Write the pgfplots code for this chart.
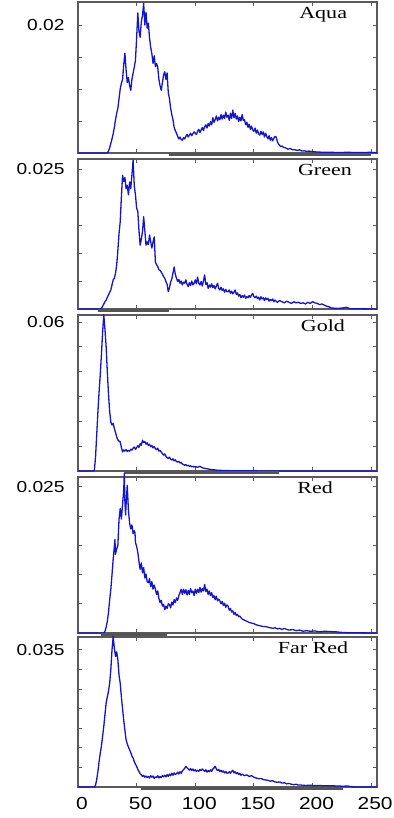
\documentclass[border=0pt]{standalone}
\usepackage{fontspec}
\setmainfont{Liberation Sans}[FakeStretch=1.2]
\newfontfamily\tfont{Liberation Serif}[FakeStretch=1.3]
\usepackage{pgfplots}
\pgfplotsset{compat=1.18}
\definecolor{framegray}{RGB}{90,90,90}
\definecolor{barcol}{RGB}{85,85,85}
\definecolor{curve}{RGB}{20,20,205}
\pgfplotsset{panel/.style={
  scale only axis, width=299bp, xmin=0, xmax=255, ymin=0,
  axis line style={draw=framegray, line width=1.2pt},
  tick style={draw=framegray, line width=0.9pt}, major tick length=4bp,
  tick align=inside, xtick={0,50,100,150,200,250}, xticklabels={},
  clip=false, anchor=north west,
  yticklabel style={font=\fontsize{16}{16}\selectfont, xshift=-10bp},
  xticklabel style={font=\fontsize{17.5}{17.5}\selectfont, yshift=-7bp, xshift=4bp}},
  hist/.style={draw=curve, line width=1.3bp, line join=round, mark=none},
  bar/.style={draw=barcol, line width=3.6bp, yshift=-1.6bp, mark=none, forget plot}}
\tikzset{ttl/.style={font=\tfont\fontsize{17}{17}\selectfont, anchor=base, yshift=-16bp}}
\begin{document}
\begin{tikzpicture}
\path[use as bounding box] (0,0) rectangle (394bp,-818bp);
% Aqua
\begin{axis}[panel, at={(78bp,-2bp)}, height=151bp, ymax=23.6, ytick={5,10,15,20}, yticklabels={,,,0.02}]
\addplot[hist] coordinates {(0,0) (25,0) (26,0.3) (27,0.8) (28,1.5) (29,2.2) (30,3.0) (31,4.0) (32,5.2) (33,6.2) (34,7.0) (35,8.5) (36,10.0) (37,10.9) (38,11.5) (39,13.8) (40,15.6) (41,13.0) (42,11.0) (43,11.8) (44,10.6) (45,9.8) (46,11.5) (47,12.5) (48,13.4) (49,14.5) (50,18.0) (51,21.9) (52,19.0) (53,18.1) (54,20.5) (55,21.5) (56,23.4) (57,20.0) (58,22.0) (59,19.5) (60,20.3) (61,18.0) (62,16.5) (63,15.5) (64,14.0) (65,15.2) (66,13.5) (67,14.0) (68,13.4) (69,11.5) (70,10.5) (71,9.8) (72,11.0) (73,12.2) (74,12.7) (75,11.5) (76,12.5) (77,9.4) (78,8.5) (79,7.0) (80,6.0) (81,5.2) (82,4.0) (83,3.5) (84,3.1) (85,2.6) (86,2.2) (87,2.5) (88,2.1) (89,2.0) (90,2.4) (91,2.2) (92,2.6) (93,2.9) (94,2.5) (95,2.8) (96,3.1) (97,2.7) (98,3.0) (99,3.3) (100,3.1) (101,2.9) (102,3.4) (103,3.7) (104,3.2) (105,3.6) (106,4.0) (107,3.5) (108,4.1) (109,4.4) (110,3.9) (111,4.6) (112,4.2) (113,4.9) (114,4.4) (115,5.5) (116,4.8) (117,5.2) (118,5.8) (119,5.0) (120,5.6) (121,5.2) (122,6.0) (123,5.3) (124,5.9) (125,5.4) (126,6.4) (127,5.6) (128,5.9) (129,5.1) (130,6.2) (131,5.4) (132,6.7) (133,5.5) (134,6.2) (135,5.3) (136,5.8) (137,4.9) (138,5.6) (139,5.0) (140,6.0) (141,5.1) (142,5.2) (143,4.4) (144,4.8) (145,4.0) (146,4.5) (147,3.7) (148,4.2) (149,3.6) (150,3.4) (151,3.9) (152,3.1) (153,3.6) (154,3.0) (155,2.8) (156,3.4) (157,2.9) (158,3.3) (159,2.5) (160,3.1) (161,2.6) (162,2.2) (163,2.7) (164,2.0) (165,2.4) (166,1.9) (167,2.3) (168,2.6) (169,2.5) (170,1.8) (171,1.4) (172,1.2) (173,1.0) (174,1.1) (175,0.9) (177,0.8) (179,0.6) (181,0.7) (183,0.5) (185,0.5) (187,0.4) (189,0.5) (191,0.3) (193,0.35) (195,0.25) (197,0.3) (200,0.2) (205,0.15) (210,0.1) (215,0.12) (220,0.08) (230,0.1) (240,0.08) (250,0.1) (255,0.05)};
\addplot[bar] coordinates {(78,0) (250,0)};
\node[ttl] at (rel axis cs:0.82,1) {Aqua};
\end{axis}
% Green
\begin{axis}[panel, at={(78bp,-159bp)}, height=150bp, ymax=26.8, ytick={5,10,15,20,25}, yticklabels={,,,,0.025}]
\addplot[hist] coordinates {(0,0) (19,0) (20,0.1) (21,0.5) (22,0.9) (23,1.3) (24,1.6) (25,2.1) (26,2.5) (27,3.0) (28,3.4) (29,4.3) (30,5.2) (31,5.5) (32,6.4) (33,7.9) (34,10.5) (35,13.5) (36,15.6) (37,20.0) (38,23.9) (39,22.8) (40,23.5) (41,21.5) (42,22.1) (43,20.4) (44,22.7) (45,21.5) (46,24.0) (47,26.6) (48,22.0) (49,20.4) (50,18.0) (51,17.5) (52,14.0) (53,11.4) (54,12.5) (55,13.8) (56,16.5) (57,14.0) (58,11.4) (59,12.0) (60,11.5) (61,13.2) (62,12.0) (63,10.9) (64,12.0) (65,12.9) (66,8.4) (67,7.9) (68,7.6) (69,7.0) (70,6.9) (71,6.6) (72,6.2) (73,5.8) (74,5.5) (75,4.9) (76,4.4) (77,3.1) (78,3.8) (79,4.8) (80,5.4) (81,6.4) (82,7.5) (83,6.2) (84,5.5) (85,4.9) (86,5.3) (87,4.6) (88,5.0) (89,4.3) (90,4.8) (91,4.6) (92,5.2) (93,4.4) (94,4.0) (95,4.7) (96,4.2) (97,5.0) (98,4.3) (99,4.6) (100,5.2) (101,4.5) (102,5.7) (103,4.6) (104,4.3) (105,4.9) (106,4.1) (107,5.0) (108,6.1) (109,4.4) (110,4.7) (111,3.7) (112,4.3) (113,3.9) (114,4.5) (115,3.8) (116,4.2) (117,3.6) (118,4.1) (119,4.6) (120,3.7) (121,3.4) (122,3.9) (123,3.3) (124,3.6) (125,3.0) (126,3.5) (127,3.1) (128,3.1) (129,3.4) (130,2.8) (131,3.2) (132,2.7) (133,3.0) (134,3.4) (135,2.6) (136,2.9) (137,2.3) (138,2.6) (139,2.0) (140,2.4) (141,2.1) (142,2.5) (143,1.9) (144,2.2) (145,2.0) (146,2.4) (147,2.1) (148,2.5) (149,2.8) (150,2.2) (151,2.0) (152,2.3) (153,1.9) (154,2.1) (155,1.6) (156,2.2) (157,1.8) (158,2.0) (159,1.5) (160,2.0) (161,1.7) (162,1.9) (163,1.4) (164,1.7) (165,1.5) (166,1.8) (167,1.3) (168,1.6) (169,1.4) (170,1.2) (172,1.5) (174,1.3) (176,1.1) (178,1.4) (180,1.2) (182,1.0) (184,1.3) (186,1.1) (188,1.2) (190,1.0) (192,1.1) (194,0.9) (196,1.2) (198,1.0) (200,1.3) (202,1.1) (204,1.0) (206,0.8) (208,0.9) (210,0.7) (212,0.5) (214,0.4) (216,0.2) (218,0.15) (222,0.1) (226,0.2) (229,0.3) (232,0.05) (255,0)};
\addplot[bar] coordinates {(17,0) (78,0)};
\node[ttl] at (rel axis cs:0.826,1) {Green};
\end{axis}
% Gold
\begin{axis}[panel, at={(78bp,-315bp)}, height=156bp, ymax=62.8, ytick={10,20,30,40,50,60}, yticklabels={,,,,,0.06}]
\addplot[hist] coordinates {(0,0) (13,0) (14,0.5) (15,6) (16,15) (17,24) (18,32) (19,39) (20,47) (21,56) (22,62.9) (23,57) (24,50) (25,40) (26,31) (27,24) (28,19.7) (29,18.5) (30,19.2) (31,17.1) (32,15.5) (33,13.7) (34,12.5) (35,12.0) (36,11.7) (37,9.5) (38,7.7) (39,8.5) (40,8.0) (41,8.6) (42,7.9) (43,8.3) (44,8.0) (45,8.8) (46,8.4) (47,9.2) (48,9.7) (49,8.7) (50,9.4) (51,10.2) (52,9.5) (53,11.0) (54,10.4) (55,12.4) (56,11.5) (57,11.9) (58,10.8) (59,11.4) (60,10.3) (61,10.8) (62,9.8) (63,10.2) (64,9.3) (65,9.8) (66,9.0) (67,8.6) (68,9.2) (69,8.0) (70,8.3) (71,7.6) (72,7.0) (73,6.4) (74,6.9) (75,5.9) (76,5.4) (77,5.0) (78,5.6) (79,4.8) (80,4.4) (81,4.9) (82,4.1) (83,4.5) (84,3.8) (85,3.6) (86,3.9) (87,3.2) (88,3.5) (89,2.8) (90,2.6) (91,2.3) (92,2.6) (93,2.1) (94,2.3) (95,1.9) (96,2.1) (97,1.7) (98,1.9) (99,1.6) (100,1.8) (102,1.5) (104,1.9) (106,1.3) (108,1.1) (110,0.9) (112,0.7) (114,0.6) (116,0.5) (118,0.35) (120,0.3) (124,0.2) (128,0.15) (135,0.1) (150,0.05) (170,0) (255,0)};
\addplot[bar] coordinates {(39,0) (171,0)};
\node[ttl] at (rel axis cs:0.819,1) {Gold};
\end{axis}
% Red
\begin{axis}[panel, at={(78bp,-477bp)}, height=156bp, ymax=26.7, ytick={5,10,15,20,25}, yticklabels={,,,,0.025}]
\addplot[hist] coordinates {(0,0) (22,0) (23,0.3) (24,1.0) (25,2.0) (26,3.5) (27,5.7) (28,7.5) (29,10.0) (30,12.6) (31,14.8) (31.5,16.0) (32,13.5) (33,14.4) (34,15.0) (35,19.5) (36,21.3) (37,19.5) (38,22.0) (39,24.5) (39.5,27.3) (40,22.5) (40.6,20.2) (41,22.0) (42,25.3) (43,21.0) (43.7,19.5) (44,18.8) (45,17.8) (46,18.5) (47,17.0) (48,17.5) (48.6,17.2) (49,15.5) (50,14.8) (51,13.8) (52,12.2) (53,10.9) (54,12.0) (55,10.3) (56,11.2) (57,9.4) (58,10.1) (59,8.8) (60,8.6) (61,9.3) (62,7.9) (63,8.8) (64,7.5) (65,8.2) (66,7.5) (67,6.6) (68,7.2) (69,5.9) (70,5.2) (71,5.6) (72,4.6) (73,4.9) (74,4.0) (75,4.6) (76,4.2) (77,5.0) (78,4.9) (79,4.3) (80,5.3) (81,4.8) (82,5.7) (83,5.2) (84,6.0) (85,5.6) (86,6.4) (87,6.9) (88,7.5) (89,6.6) (90,7.5) (91,6.8) (92,7.4) (93,6.5) (94,7.3) (95,6.6) (96,7.6) (97,6.9) (98,7.2) (99,6.4) (100,7.5) (101,6.8) (102,7.5) (103,6.9) (104,7.8) (105,7.0) (106,7.6) (107,7.2) (108,8.3) (109,7.1) (110,7.5) (111,6.6) (112,7.2) (113,6.4) (114,6.9) (115,6.1) (116,6.4) (117,5.7) (118,6.3) (119,5.5) (120,5.8) (121,5.5) (122,5.0) (123,5.4) (124,4.7) (125,5.1) (126,4.4) (127,4.8) (128,4.6) (129,3.9) (130,4.2) (131,3.6) (132,3.8) (133,3.2) (134,3.5) (135,3.0) (136,3.2) (137,2.8) (138,2.9) (139,2.6) (140,2.4) (142,2.2) (144,2.0) (146,1.8) (148,1.7) (150,1.6) (152,1.4) (154,1.3) (156,1.2) (158,1.1) (160,1.1) (162,1.0) (164,0.9) (166,0.8) (168,0.9) (170,0.7) (172,0.8) (174,0.6) (176,0.8) (178,0.6) (180,0.5) (183,0.6) (186,0.4) (189,0.5) (192,0.3) (195,0.4) (198,0.3) (202,0.35) (206,0.2) (210,0.3) (215,0.25) (220,0.2) (225,0.1) (230,0.05) (255,0)};
\addplot[bar] coordinates {(20,0) (76,0)};
\node[ttl] at (rel axis cs:0.793,1) {Red};
\end{axis}
% Far Red
\begin{axis}[panel, at={(78bp,-637bp)}, height=150bp, ymax=38.3, ytick={5,10,15,20,25,30,35}, yticklabels={,,,,,,0.035}, xticklabels={0,50,100,150,200,250}]
\addplot[hist] coordinates {(0,0) (14,0) (15,0.5) (16,2.0) (17,4.0) (18,6.5) (19,8.7) (20,10.5) (21,13.0) (22,15.5) (23,18.5) (24,21.5) (25,23.0) (26,24.5) (27,26.5) (28,30.0) (29,35.0) (30,38.4) (31,35.5) (32,33.3) (33,34.5) (34,32.5) (35,28.5) (36,26.5) (37,23.0) (38,20.0) (39,17.0) (40,14.5) (41,12.1) (42,11.0) (43,10.2) (44,9.5) (45,8.8) (46,7.9) (47,7.4) (48,6.5) (49,5.8) (50,5.3) (51,4.5) (52,4.0) (53,3.4) (54,3.1) (55,2.7) (56,3.0) (57,2.5) (58,2.8) (59,2.4) (60,2.7) (61,2.3) (62,2.9) (63,2.5) (64,2.8) (65,2.2) (66,2.6) (67,2.4) (68,2.9) (69,2.3) (70,2.7) (71,2.4) (72,2.9) (73,2.6) (74,3.0) (75,2.6) (76,3.2) (77,2.7) (78,3.3) (79,2.9) (80,3.5) (81,3.0) (82,3.6) (83,3.2) (84,3.4) (85,3.8) (86,3.3) (87,3.9) (88,3.5) (89,4.1) (90,4.4) (91,4.8) (92,5.3) (93,4.9) (94,4.6) (95,4.3) (96,4.7) (97,4.2) (98,4.6) (99,4.1) (100,4.4) (101,4.0) (102,4.3) (103,4.0) (104,4.5) (105,4.2) (106,4.6) (107,4.3) (108,4.0) (109,4.4) (110,3.8) (111,4.2) (112,3.9) (113,4.4) (114,4.0) (115,4.6) (116,4.9) (117,5.3) (118,4.6) (119,4.2) (120,4.5) (121,3.9) (122,4.3) (123,3.8) (124,4.1) (125,3.6) (126,4.0) (127,3.5) (128,3.6) (129,3.9) (130,3.5) (131,4.0) (132,4.3) (133,3.6) (134,3.9) (135,3.4) (136,3.7) (137,3.2) (138,3.5) (139,3.0) (140,3.3) (142,2.9) (144,3.1) (146,2.7) (148,2.9) (150,2.5) (152,2.3) (154,2.1) (156,2.2) (158,1.9) (160,1.8) (162,1.7) (164,1.5) (166,1.6) (168,1.3) (170,1.2) (172,1.3) (174,1.0) (176,1.1) (178,0.8) (180,0.9) (182,0.7) (184,0.6) (186,0.7) (188,0.5) (190,0.5) (194,0.4) (198,0.45) (202,0.35) (206,0.4) (210,0.3) (214,0.35) (218,0.3) (222,0.25) (226,0.2) (230,0.25) (233,0.1) (236,0) (255,0)};
\addplot[bar] coordinates {(54,0) (226,0)};
\node[ttl] at (rel axis cs:0.786,1) {Far Red};
\end{axis}
\end{tikzpicture}
\end{document}
